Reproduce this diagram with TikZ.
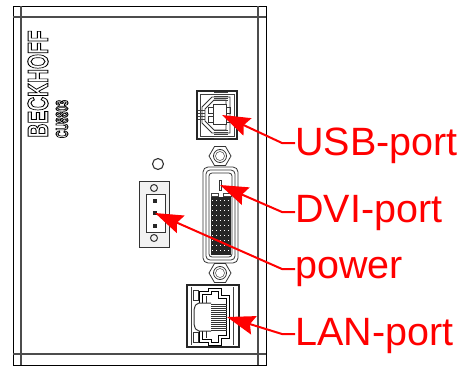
\documentclass[tikz,border=0pt]{standalone}
\usepackage{fontspec}
\setmainfont{Liberation Sans}
\usetikzlibrary{arrows.meta}

\tikzset{
  part/.style={draw=black!80, line width=0.8pt},
  thin part/.style={draw=black!75, line width=0.5pt},
  case/.style={draw=black!70, line width=1.1pt},
  portlabel/.style={text=red, font=\fontsize{39.5}{39.5}\selectfont, anchor=base west, inner sep=0pt},
  pointer/.style={draw=red, line width=2pt, -{Stealth[length=28pt,width=19pt,inset=4pt]}},
  logo/.style={rotate=90, text=black, inner sep=0pt}
}

\newcommand{\hexnut}[1]{
  \draw[part] #1 +(-11,0) -- +(-5.5,-9.5) -- +(5.5,-9.5) -- +(11,0) -- +(5.5,9.5) -- +(-5.5,9.5) -- cycle;
  \draw[part] #1 circle [radius=6.5];
  \draw[thin part] #1 circle [radius=4.5];
}
\newcommand{\hollow}[1]{\special{pdf:code 1 Tr 1 w}#1\special{pdf:code 0 Tr}}

\begin{document}
\begin{tikzpicture}[x=1pt, y=-1pt]

  \useasboundingbox (0,0) rectangle (463,367);

  % housing
  \draw[draw=black, line width=0.8pt] (13,6) rectangle (266,365);
  \draw[case] (13,17) -- (266,17);
  \draw[case] (13,354) -- (266,354);
  \draw[case] (21,6) -- (21,365);
  \draw[case] (258,6) -- (258,365);

  % lettering
  \node[logo, font=\bfseries\fontsize{29}{29}\selectfont] (brand) at (38,84) {\scalebox{0.665}[1]{\hollow{BECKHOFF}}};
  \node[logo, font=\bfseries\fontsize{17}{17}\selectfont] (model) at (62,119) {\scalebox{0.61}[1]{\hollow{CU8803}}};

  % usb
  \draw[draw=black!85, line width=1.6pt] (197,91) rectangle (237,139);
  \draw[thin part] (200,94) rectangle (234,136);
  \draw[part] (205,109) -- (205,121) -- (214,130) -- (226,130) -- (226,100) -- (214,100) -- cycle;
  \draw[part] (202,107) -- (202,123) -- (212,133) -- (230,133) -- (230,97) -- (212,97) -- cycle;
  \draw[part, fill=white] (213,104) rectangle (226,124);
  \draw[part] (208,107) rectangle (213,113);
  \draw[part] (208,116) rectangle (213,122);
  \draw[part] (226,107) rectangle (230,113);
  \draw[part] (226,116) rectangle (230,122);
  \foreach \y in {92,94,96,98,100,130,132,134,136,138}
    \draw[thin part] (214,\y) -- (228,\y);
  \foreach \y in {110,113,116,119}
    \draw[thin part] (198,\y) -- (205,\y);

  % nuts
  \hexnut{(220,156)}
  \hexnut{(220,273)}

  % dvi
  \draw[part, rounded corners=5pt] (203,167) rectangle (238,263);
  \draw[part, rounded corners=4pt] (206,170) rectangle (235,260);
  \draw[part, rounded corners=3pt] (209,173) rectangle (232,257);
  \fill[black!85] (211,197) rectangle (231,255);
  \foreach \y in {200,205,...,250}
    \draw[white, line width=0.4pt, dash pattern=on 1pt off 3pt] (212,\y) -- (230,\y);
  \draw[part] (219,180) rectangle (221,190);
  \draw[thin part] (211,193) rectangle (218,196);
  \draw[thin part] (223,193) rectangle (231,196);

  % power
  \draw[part, line width=1.1pt] (158,164) circle [radius=5.5];
  \draw[part, line width=1pt, fill=black!5] (139,181) rectangle (169,247);
  \draw[part, fill=white] (146,194) rectangle (165,232);
  \draw[part, line width=1pt] (154,188) circle [radius=3.5];
  \draw[part, line width=1pt] (154,238) circle [radius=3.5];
  \foreach \y in {201,213,226}
    \fill[black!85] (153,\y-2) rectangle (157,\y+2);

  % lan
  \draw[draw=black!85, line width=1.4pt] (187,285) rectangle (239,347);
  \draw[thin part] (191,287) -- (191,345);
  \draw[thin part] (233,287) -- (233,345);
  \draw[part] (193,290) rectangle (198,300);
  \draw[part] (193,332) rectangle (198,342);
  \draw[draw=black, line width=1pt, double, double distance=1.2pt] (201,303) -- (201,293) -- (210,293) -- (210,290) -- (220,290) -- (220,297) -- (228,297) -- (228,337) -- (220,337) -- (220,344) -- (210,344) -- (210,341) -- (201,341) -- (201,331);
  \draw[part, line width=1pt, rounded corners=2pt] (211,303) -- (197,303) -- (194,308) -- (194,326) -- (197,331) -- (211,331);
  \draw[part] (206,303) -- (206,296);
  \draw[part] (206,331) -- (206,338);
  \foreach \y in {304,306,...,330}
    \draw[draw=black!80, line width=0.9pt] (211,\y) -- (227,\y);

  % labels
  \node[portlabel] (usblabel) at (295,155) {USB-port};
  \node[portlabel] (dvilabel) at (295,222) {DVI-port};
  \node[portlabel] (powerlabel) at (295,278) {power};
  \node[portlabel] (lanlabel) at (295,345) {LAN-port};

  \coordinate (usbbend) at (282,143);
  \coordinate (dvibend) at (282,212);
  \coordinate (powerbend) at (282,269);
  \coordinate (lanbend) at (282,334);

  \coordinate (usbtip) at (222,115);
  \coordinate (dvitip) at (220,185);
  \coordinate (powertip) at (155,213);
  \coordinate (lantip) at (227,317);

  \draw[pointer] (usblabel.west |- usbbend) -- (usbbend) -- (usbtip);
  \draw[pointer] (dvilabel.west |- dvibend) -- (dvibend) -- (dvitip);
  \draw[pointer] (powerlabel.west |- powerbend) -- (powerbend) -- (powertip);
  \draw[pointer] (lanlabel.west |- lanbend) -- (lanbend) -- (lantip);

\end{tikzpicture}
\end{document}
